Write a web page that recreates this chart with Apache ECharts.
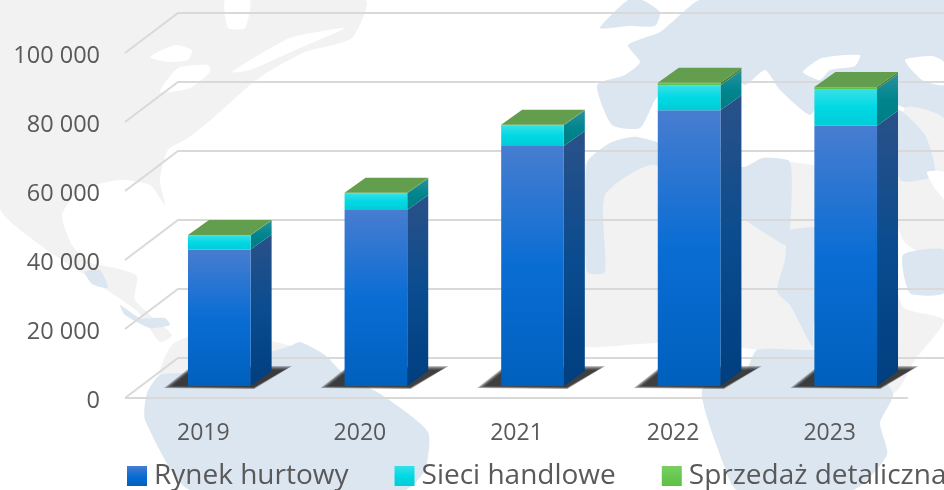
<!DOCTYPE html>
<html><head><meta charset="utf-8">
<style>html,body{margin:0;padding:0;background:#fff}#c{width:944px;height:490px}</style>
<script src="https://cdn.jsdelivr.net/npm/echarts@6/dist/echarts.min.js"></script>
</head><body><div id="c"></div>
<script>
const categories = ['2019','2020','2021','2022','2023'];
const rynekHurtowy = [39600, 51000, 69600, 79900, 75400];
const sieciHandlowe = [4100, 4900, 6000, 7300, 10700];
const sprzedazDetaliczna = [100, 100, 100, 700, 600];
const valueTicks = [0, 20000, 40000, 60000, 80000, 100000];

const BLUE = '#dce6f1', GREY = '#f2f2f2', WHITE = '#ffffff';
const mapShapes = [
  [GREY, [[0,0],[365,0],[352,38],[305,52],[268,72],[250,85],[213,118],[188,138],[168,150],[160,180],[165,205],[150,185],[120,180],[80,190],[62,215],[72,245],[88,262],[115,268],[137,276],[135,300],[172,335],[160,342],[138,312],[110,292],[85,275],[40,245],[0,208]]],
  [WHITE, [[150,57],[175,45],[192,50],[188,60],[168,62]]],
  [WHITE, [[160,92],[178,68],[208,65],[210,72],[190,88]]],
  [WHITE, [[225,0],[250,0],[245,28],[228,28]]],
  [WHITE, [[232,72],[290,38],[345,28],[300,48],[250,70]]],
  [BLUE, [[85,272],[100,270],[108,288],[92,284]]],
  [BLUE, [[120,305],[140,318],[165,318],[170,325],[150,328],[125,315]]],
  [GREY, [[172,345],[210,330],[288,345],[325,358],[330,372],[250,380],[160,378]]],
  [BLUE, [[147,393],[160,375],[200,372],[240,360],[288,347],[300,342],[325,355],[345,375],[382,395],[428,432],[425,470],[405,490],[190,490],[145,420]]],
  [BLUE, [[600,28],[628,0],[642,0],[660,12],[655,26],[628,26]]],
  [BLUE, [[700,0],[944,0],[944,118],[905,108],[885,100],[855,105],[822,100],[810,115],[780,90],[765,70],[745,85],[730,70],[710,72],[690,80],[668,85],[655,100],[640,128],[612,125],[597,85],[625,75],[640,62],[628,45],[660,32],[680,15]]],
  [WHITE, [[803,72],[822,58],[860,55],[855,66],[830,70],[820,80]]],
  [WHITE, [[905,60],[932,56],[944,62],[944,85],[922,80]]],
  [GREY, [[905,108],[944,118],[944,172],[927,172],[940,195],[944,200],[944,260],[915,250],[903,240],[890,195]]],
  [BLUE, [[898,110],[925,135],[935,175],[900,180]]],
  [WHITE, [[927,172],[944,172],[944,195],[936,190]]],
  [BLUE, [[903,255],[944,250],[944,293],[910,293]]],
  [GREY, [[510,200],[587,163],[610,143],[637,137],[743,167],[763,158],[790,162],[815,165],[870,175],[890,250],[903,307],[944,320],[915,360],[893,393],[757,350],[657,343],[587,347],[530,330]]],
  [BLUE, [[587,163],[610,143],[637,137],[743,167],[763,158],[790,162],[790,230],[785,245],[655,165],[605,195],[605,272],[587,272]]],
  [BLUE, [[790,230],[860,230],[885,260],[880,300],[815,320],[813,347],[790,305],[777,292],[785,260]]],
  [BLUE, [[757,350],[813,350],[850,345],[893,393],[880,423],[887,455],[853,490],[737,490],[723,463],[702,390],[745,372]]]
];

const DEPTH_X = 53, DEPTH_Y = 40, BAR_SHIFT_X = 16, BAR_SHIFT_Y = 12, BAR_D_X = 21, BAR_D_Y = 15;
const SHADOW_SPREADS = [4, 3, 2, 1, 0];
const vg = (stops) => new echarts.graphic.LinearGradient(0, 0, 0, 1, stops.map((c, i) => ({offset: i / (stops.length - 1), color: c})));
const styles = [
  {name:'Rynek hurtowy', front:['#477dd0','#0a6dd4','#0060bd'], side:['#2a5188','#0a4c8f','#003e7f']},
  {name:'Sieci handlowe', front:['#38e0e8','#00d9e4','#00ccd6'], side:['#2a929e','#00858e','#007c85']},
  {name:'Sprzedaż detaliczna', front:['#7ad063','#68c850','#5cbf46'], side:['#4e8a3e','#4a8538','#437d32']}
];

let cum = categories.map(() => 0);
function stack(arr){ const out = arr.map((v,i) => [i, cum[i], cum[i] + v]); cum = cum.map((c,i) => c + arr[i]); return out; }
const stacks = [stack(rynekHurtowy), stack(sieciHandlowe), stack(sprzedazDetaliczna)];

function barRenderer(idx){
  return function(params, api){
    const i = api.value(0), band = api.size([1,0])[0], w = band * 0.4;
    const p0 = api.coord([i, api.value(1)]), p1 = api.coord([i, api.value(2)]);
    const xl = p0[0] - w/2 + BAR_SHIFT_X, xr = xl + w, yb = p0[1] - BAR_SHIFT_Y, yt = p1[1] - BAR_SHIFT_Y;
    const ch = [];
    if (idx === 0) SHADOW_SPREADS.forEach(e => ch.push({type:'polygon',
      shape:{points:[[xl-16-2*e,yb+e*0.5],[xl+4,yb-16-e],[xl+96+2*e,yb-16-e],[xl+66,yb+1+e*0.5]]},
      style:{fill:'rgba(25,25,25,0.3)'}}));
    ch.push({type:'polygon', shape:{points:[[xr,yb],[xr+BAR_D_X,yb-BAR_D_Y],[xr+BAR_D_X,yt-BAR_D_Y],[xr,yt]]}, style:{fill:vg(styles[idx].side)}});
    ch.push({type:'rect', shape:{x:xl,y:yt,width:w,height:yb-yt}, style:{fill:vg(styles[idx].front)}});
    if (idx === 2) ch.push({type:'polygon', shape:{points:[[xl,yt],[xr,yt],[xr+BAR_D_X,yt-BAR_D_Y],[xl+BAR_D_X,yt-BAR_D_Y]]}, style:{fill:'#629e4e'}});
    return {type:'group', children:ch};
  };
}

const wallSeries = {
  type:'custom', silent:true, z:1, legendHoverLink:false,
  data: valueTicks.map(v => [0, v]), encode:{x:0,y:1},
  renderItem(params, api){
    const g = params.coordSys, v = api.value(1), y = api.coord([0, v])[1];
    const x0 = g.x, x1 = g.x + g.width;
    const lineStyle = {stroke:'#d9d9d9', lineWidth:2, fill:null};
    const ch = [
      {type:'polyline', shape:{points:[[x0,y],[x0+DEPTH_X,y-DEPTH_Y],[x1+DEPTH_X,y-DEPTH_Y]]}, style:lineStyle}
    ];
    if (v === 0) ch.push({type:'line', shape:{x1:x0,y1:y,x2:x1,y2:y}, style:lineStyle});
    return {type:'group', children:ch};
  }
};

const chart = echarts.init(document.getElementById('c'), null, {renderer:'canvas'});
chart.setOption({
  animation:false,
  backgroundColor:'#fff',
  textStyle:{fontFamily:'"Open Sans"'},
  graphic: mapShapes.map(([c, pts]) => ({type:'polygon', silent:true, z:0, shape:{points:pts, smooth:0.2}, style:{fill:c}})),
  grid:{left:125, right:36, top:53, bottom:92},
  legend:{
    data:styles.map(s => s.name), left:127, top:462, width:1000, icon:'rect', itemWidth:20, itemHeight:20, itemGap:46, padding:0,
    textStyle:{color:'#595959', fontSize:28, fontFamily:'"Open Sans"', padding:[0,0,0,2]}, selectedMode:false
  },
  xAxis:{type:'category', data:categories, axisLine:{show:false}, axisTick:{show:false}, splitLine:{show:false},
    axisLabel:{color:'#595959', fontSize:23, margin:24, fontFamily:'"Open Sans"'}},
  yAxis:{type:'value', min:0, max:100000, interval:20000, axisLine:{show:false}, axisTick:{show:false}, splitLine:{show:false},
    axisLabel:{margin:25,
      formatter:v => '{t|' + String(v).replace(/\B(?=(\d{3})+$)/g,' ') + '}',
      rich:{t:{color:'#595959', fontSize:23.5, fontFamily:'"Open Sans"', padding:[6,0,0,0]}}}},
  series:[wallSeries].concat(styles.map((s, idx) => ({
    type:'custom', name:s.name, z:3 + idx, data:stacks[idx], encode:{x:0,y:[1,2]},
    itemStyle:{color:vg(s.front)}, renderItem:barRenderer(idx)
  })))
});
</script></body></html>
